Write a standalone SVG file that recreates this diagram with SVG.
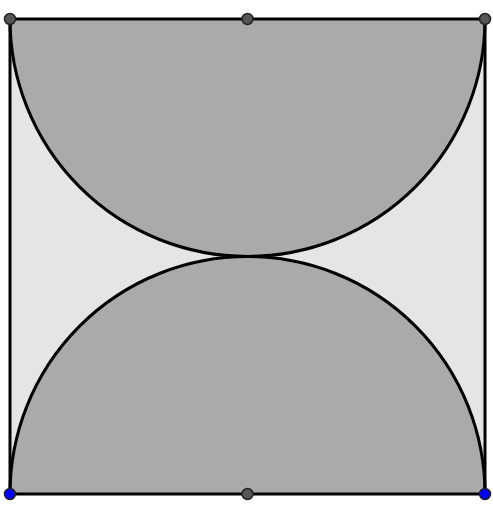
<svg xmlns="http://www.w3.org/2000/svg" width="493" height="507" viewBox="0 0 493 507">
<style>
.edge{fill:none;stroke:#000;stroke-width:3}
.pt{stroke:#222;stroke-width:1.5}
.g{fill:#555}
.b{fill:#0000ff}
</style>
<rect width="493" height="507" fill="#fff"/>
<g id="square"><rect x="10" y="19" width="475" height="475" fill="#e5e5e5"/></g>
<g id="top-semicircle"><path d="M10 19 A237.5 237.5 0 0 0 485 19 Z" fill="#aaaaaa"/></g>
<g id="bottom-semicircle"><path d="M10 494 A237.5 237.5 0 0 1 485 494 Z" fill="#aaaaaa"/></g>
<g id="connectors">
<rect class="edge" x="10" y="19" width="475" height="475"/>
<path class="edge" d="M10 19 A237.5 237.5 0 0 0 485 19"/>
<path class="edge" d="M10 494 A237.5 237.5 0 0 1 485 494"/>
</g>
<g id="p-tl"><circle class="pt g" cx="10" cy="19" r="5.5"/></g>
<g id="p-tm"><circle class="pt g" cx="247.5" cy="19" r="5.5"/></g>
<g id="p-tr"><circle class="pt g" cx="485" cy="19" r="5.5"/></g>
<g id="p-bl"><circle class="pt b" cx="10" cy="494" r="5.5"/></g>
<g id="p-bm"><circle class="pt g" cx="247.5" cy="494" r="5.5"/></g>
<g id="p-br"><circle class="pt b" cx="485" cy="494" r="5.5"/></g>
</svg>
